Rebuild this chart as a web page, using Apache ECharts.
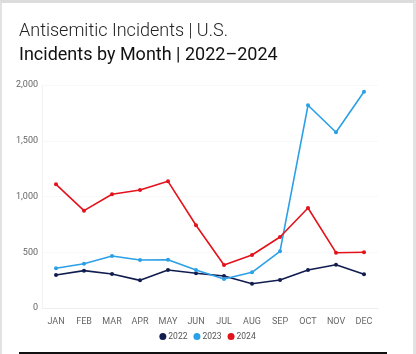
<!DOCTYPE html>
<html>
<head>
<meta charset="utf-8">
<script src="https://cdn.jsdelivr.net/npm/echarts@6/dist/echarts.min.js"></script>
<style>
  html, body { margin: 0; padding: 0; background: #fff; }
  #frame { position: relative; width: 416px; height: 354px; box-sizing: border-box;
    border-top: 3px solid #dcdcdc; border-left: 2px solid #e2e2e2; border-right: 3px solid #e2e2e2; }
  #chart { position: absolute; left: 0; top: 0; width: 411px; height: 351px; }
  #rule { position: absolute; left: 17px; top: 349px; width: 368px; height: 3px; background: #111; }
</style>
</head>
<body>
<div id="frame">
  <div id="chart"></div>
  <div id="rule"></div>
</div>
<script>
var months = ['JAN', 'FEB', 'MAR', 'APR', 'MAY', 'JUN', 'JUL', 'AUG', 'SEP', 'OCT', 'NOV', 'DEC']
var data2022 = [296, 335, 305, 248, 341, 311, 287, 218, 251, 341, 388, 302]
var data2023 = [356, 397, 466, 430, 433, 341, 260, 320, 508, 1818, 1576, 1940]
var data2024 = [1109, 873, 1020, 1058, 1136, 742, 386, 475, 637, 897, 496, 500]
var yearNames = ['2022', '2023', '2024']
var colorList = ['#111d4f', '#2ba0e6', '#e3121b']

var chart = echarts.init(document.getElementById('chart'))
var seriesData = [data2022, data2023, data2024]
var options = {
  color: colorList,
  animation: false,
  title: [{
    text: 'Antisemitic Incidents | U.S.',
    left: 12,
    top: 14,
    textStyle: { fontFamily: 'Roboto', fontWeight: 300, fontSize: 18, color: '#222' }
  }, {
    text: 'Incidents by Month | 2022\u20132024',
    left: 12,
    top: 38,
    textStyle: { fontFamily: 'Roboto', fontWeight: 400, fontSize: 18, color: '#111' }
  }],
  legend: {
    data: yearNames,
    bottom: 8,
    left: 'center',
    icon: 'circle',
    itemWidth: 7,
    itemHeight: 7,
    itemGap: 6,
    textStyle: { fontFamily: 'Roboto', fontSize: 8.5, color: '#555', padding: [0, 0, 0, -3] }
  },
  grid: {
    top: 82,
    left: 40,
    right: 35,
    bottom: 46
  },
  xAxis: {
    type: 'category',
    data: months,
    boundaryGap: true,
    axisLabel: { fontFamily: 'Roboto', fontSize: 9, color: '#666', margin: 9 },
    axisLine: { show: true, lineStyle: { color: '#eeeeee' } },
    axisTick: { show: false },
    splitLine: { show: false }
  },
  yAxis: {
    type: 'value',
    min: 0,
    max: 2000,
    interval: 500,
    axisLabel: {
      fontFamily: 'Roboto', fontSize: 9, color: '#666', margin: 4,
      formatter: function (v) { return v.toLocaleString('en-US') }
    },
    axisLine: { show: true, lineStyle: { color: '#f2f2f2' } },
    axisTick: { show: false },
    splitLine: { show: true, lineStyle: { color: '#f8f8f8' } }
  },
  series: []
}
for (var i = 0; i < yearNames.length; i++) {
  options.series.push({
    name: yearNames[i],
    type: 'line',
    symbol: 'circle',
    symbolSize: 4,
    lineStyle: { width: 1.6 },
    data: seriesData[i]
  })
}
chart.setOption(options)
</script>
</body>
</html>
